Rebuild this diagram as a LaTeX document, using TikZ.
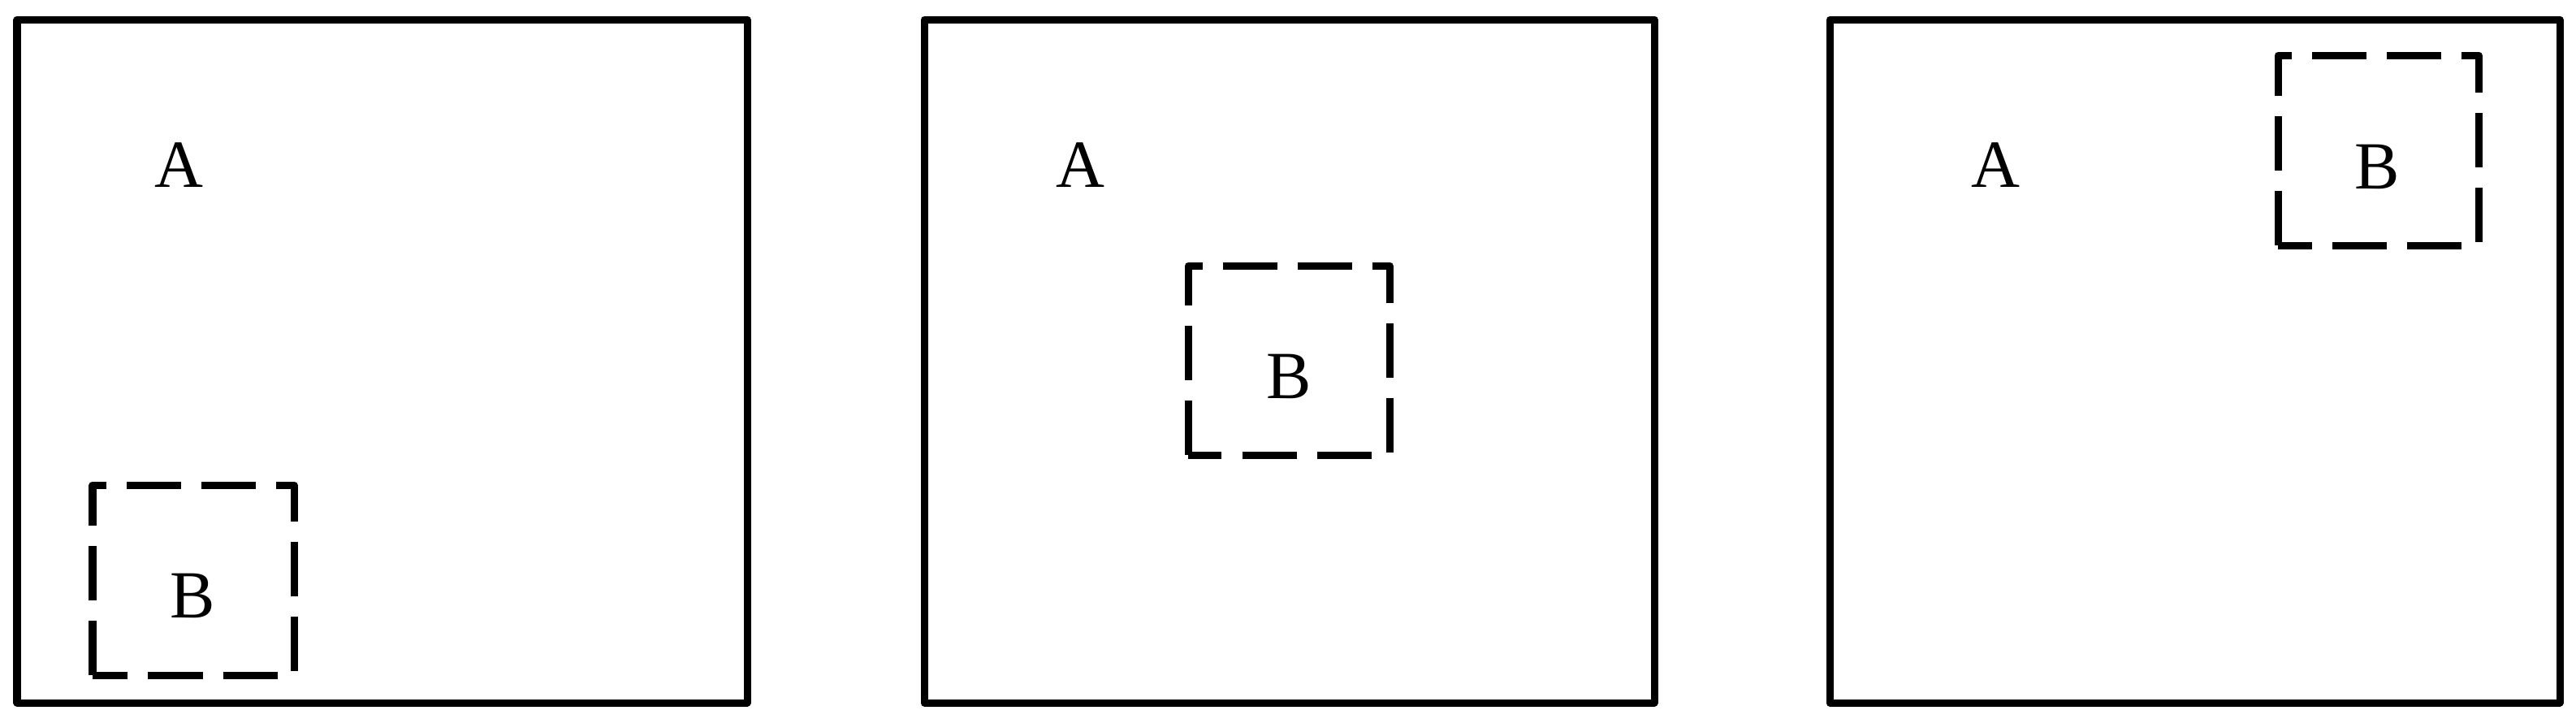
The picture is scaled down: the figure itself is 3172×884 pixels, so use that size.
\documentclass[tikz,border=0pt]{standalone}
\usepackage{fontspec}
\setmainfont{Liberation Serif}
\begin{document}
\begin{tikzpicture}[x=0.01cm,y=-0.01cm,
  outerbox/.style={line width=0.09cm,line join=round},
  innerbox/.style={line width=0.09cm,line join=round,dash pattern=on 0.67cm off 0.25cm},
  lbl/.style={anchor=base,inner sep=0pt,font=\fontsize{23.6}{28}\selectfont}]
\useasboundingbox (0,0) rectangle (3172,884);
% outer frames
\draw[outerbox] (21,865) rectangle (920,24);
\draw[outerbox] (1138,865) rectangle (2037,24);
\draw[outerbox] (2253,865) rectangle (3152,24);
% dashed inner boxes (start bottom-left, go up, clockwise)
\draw[innerbox] (114,831) -- (114,597) -- (362,597) -- (362,831) -- cycle;
\draw[innerbox] (1463,560) -- (1463,327) -- (1711,327) -- (1711,560) -- cycle;
\draw[innerbox] (2805,302) -- (2805,68) -- (3052,68) -- (3052,302) -- cycle;
% labels
\node[lbl] (a1) at (220,230) {A};
\node[lbl] (a2) at (1330,230) {A};
\node[lbl] (a3) at (2457,230) {A};
\node[lbl] (b1) at (237,760) {B};
\node[lbl] (b2) at (1587,490) {B};
\node[lbl] (b3) at (2927,232) {B};
\end{tikzpicture}
\end{document}
